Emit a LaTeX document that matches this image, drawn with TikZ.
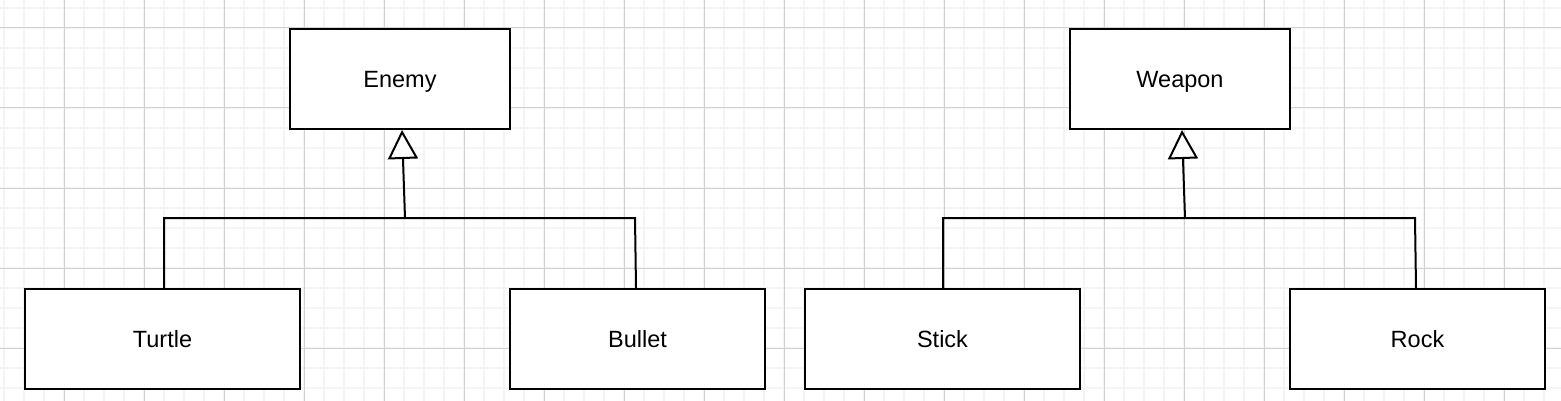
\documentclass[tikz,border=0pt]{standalone}
\usepackage{fontspec}
\setmainfont{Liberation Sans}
\usetikzlibrary{arrows.meta}
\tikzset{
  cls/.style={draw=black, line width=2pt, fill=white, minimum height=100pt, inner sep=0pt, text height=17pt, text depth=0pt, font=\fontsize{23.5}{28}\selectfont},
  conn/.style={draw=black, line width=2pt},
  inherit/.style={conn, -{Triangle[open, length=29pt, width=30pt, fill=white]}},
  minorgrid/.style={draw={rgb,255:red,244;green,244;blue,244}, line width=1.8pt},
  majorgrid/.style={draw={rgb,255:red,208;green,208;blue,208}, line width=1pt}
}
\begin{document}
\begin{tikzpicture}[x=1pt, y=-1pt]
\useasboundingbox (0,0) rectangle (1561,401);
\fill[white] (0,0) rectangle (1561,401);
\begin{scope}
\clip (0,0) rectangle (1561,401);
\foreach \x in {4,24,...,1564} \draw[minorgrid] (\x,0) -- (\x,401);
\foreach \y in {8,28,...,408} \draw[minorgrid] (0,\y) -- (1561,\y);
\foreach \x in {64,144,...,1564} \draw[majorgrid] (\x,0) -- (\x,401);
\foreach \y in {28,108,...,408} \draw[majorgrid] (0,\y) -- (1561,\y);
\end{scope}

\node[cls, minimum width=220pt] (enemy) at (400,79) {Enemy};
\node[cls, minimum width=220pt] (weapon) at (1180,79) {Weapon};
\node[cls, minimum width=275pt] (turtle) at (162.5,339) {Turtle};
\node[cls, minimum width=255pt] (bullet) at (637.5,339) {Bullet};
\node[cls, minimum width=275pt] (stick) at (942.5,339) {Stick};
\node[cls, minimum width=255pt] (rock) at (1417.5,339) {Rock};

\coordinate (ej) at (405,218);
\coordinate (et) at (164,218);
\coordinate (eb) at (635,218);
\coordinate (wj) at (1185,218);
\coordinate (ws) at (943,218);
\coordinate (wr) at (1415,218);

\draw[conn] ([xshift=1.5pt]turtle.north) -- (et) -- (eb) -- ([xshift=-1.5pt]bullet.north);
\draw[inherit] (ej) -- ([xshift=2pt]enemy.south);

\draw[conn] ([xshift=0.5pt]stick.north) -- (ws) -- (wr) -- ([xshift=-1.5pt]rock.north);
\draw[inherit] (wj) -- ([xshift=2pt]weapon.south);
\end{tikzpicture}
\end{document}
